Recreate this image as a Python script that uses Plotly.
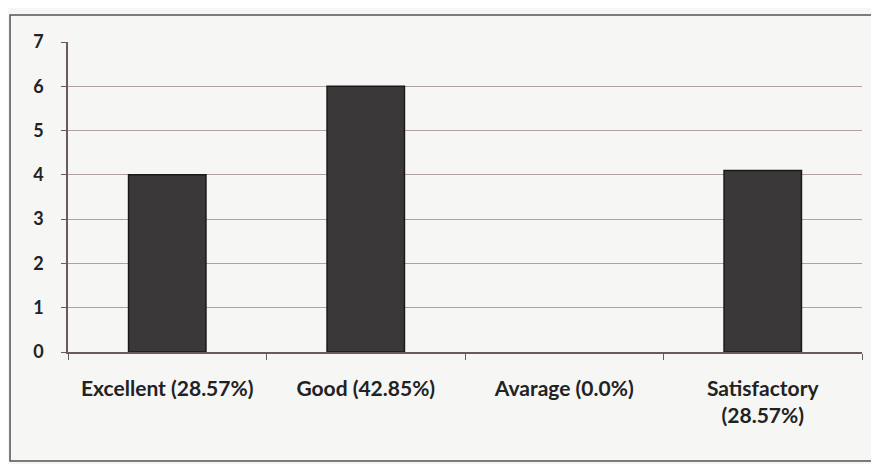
import plotly.graph_objects as go

categories = ["Excellent (28.57%)", "Good (42.85%)", "Avarage (0.0%)", "Satisfactory<br>(28.57%)"]
values = [4, 6, 0, 4.1]
y_ticks = [0, 1, 2, 3, 4, 5, 6, 7]

fig = go.Figure(go.Bar(
    x=categories, y=values,
    marker=dict(color="#3a3838",
                line=dict(color="#1a1818", width=[1.5 if v > 0 else 0 for v in values])),
    width=0.39,
))

fig.update_layout(
    width=871, height=456,
    margin=dict(l=60, r=17, t=34, b=112),
    paper_bgcolor="#f6f6f4", plot_bgcolor="#f6f6f4",
    showlegend=False,
    font=dict(family="Lato", size=18, color="#222222"),
    xaxis=dict(
        showline=True, linecolor="#6a5a5c", linewidth=1.5,
        ticks="outside", ticklen=6, tickcolor="#6a5a5c", tickson="boundaries",
        showgrid=False, ticklabelstandoff=17,
        tickfont=dict(family="Lato", size=21, color="#222222", weight="bold"),
    ),
    yaxis=dict(
        range=[0, 7], tickvals=y_ticks,
        showline=True, linecolor="#6a5a5c", linewidth=1.5,
        ticks="outside", ticklen=5, tickcolor="#6a5a5c",
        showgrid=True, gridcolor="#b0a2a3", gridwidth=1.3,
        zeroline=False, ticklabelstandoff=14,
        tickfont=dict(family="Lato", size=18, color="#222222", weight="bold"),
    ),
    shapes=[dict(type="rect", xref="paper", yref="paper",
                 x0=-0.073, x1=1.04, y0=-0.352, y1=1.087,
                 line=dict(color="#555055", width=1.5))],
)

fig.write_html("out.html")
